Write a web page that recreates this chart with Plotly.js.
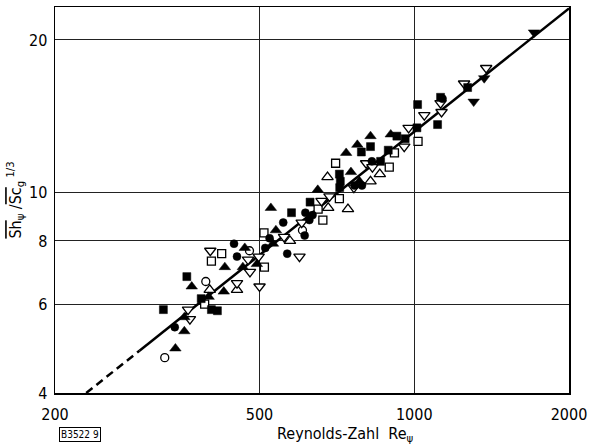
<!DOCTYPE html>
<html>
<head>
<meta charset="utf-8">
<script src="https://cdn.plot.ly/plotly-3.0.1.min.js"></script>
<style>html,body{margin:0;padding:0;background:#fff;}#chart{width:591px;height:448px;}</style>
</head>
<body>
<div id="chart"></div>
<script>
// Axis ticks
const xTicks = [200, 500, 1000, 2000];
const yTicks = [4, 6, 8, 10, 20];

// Correlation line (dashed start, then solid)
const lineDashRe = [230, 292];
const lineDashSh = [4.0, 4.85];
const lineSolidRe = [292, 2000];
const lineSolidSh = [4.85, 23.1];

// Filled squares
const fsRe = [325, 361, 385, 403, 414, 627, 577, 718, 716, 715, 822, 789, 925, 960, 890, 860, 1015, 1012, 1270, 1125, 1110];
const fsSh = [5.85, 6.8, 6.15, 5.85, 5.82, 9.55, 9.1, 10.5, 10.2, 10.85, 12.3, 12.0, 12.9, 12.75, 12.1, 11.5, 14.9, 13.4, 16.1, 15.4, 13.6];
// Filled triangles up
const ftRe = [468, 428, 464, 369, 426, 398, 357, 357, 343, 494, 526, 538, 531, 649, 822, 775, 737, 753, 782, 900];
const ftSh = [7.75, 7.1, 7.1, 6.5, 6.35, 6.2, 5.65, 5.3, 4.9, 7.2, 9.3, 8.4, 7.9, 10.1, 12.9, 12.4, 11.95, 10.95, 10.5, 13.0];
// Filled circles
const fcRe = [446, 452, 342, 614, 634, 625, 556, 612, 523, 513, 566, 827, 765, 791, 1135];
const fcSh = [7.9, 7.45, 5.4, 9.1, 9.0, 8.8, 8.7, 8.2, 8.1, 7.75, 7.55, 11.5, 10.3, 10.3, 15.3];
// Open squares
const osRe = [403, 422, 391, 510, 511, 703, 715, 664, 650, 1017, 915, 894];
const osSh = [7.3, 7.55, 6.0, 8.3, 7.1, 11.4, 9.7, 8.8, 9.25, 12.6, 11.95, 11.2];
// Open circles
const ocRe = [478, 393, 606, 327];
const ocSh = [7.65, 6.65, 8.4, 4.7];
// Open triangles up
const otRe = [400, 452, 678, 680, 743, 573, 857, 822];
const otSh = [6.4, 6.4, 10.7, 9.3, 9.25, 8.0, 10.85, 10.5];
// Open triangles down
const odRe = [401, 475, 479, 452, 500, 498, 363, 366, 684, 660, 604, 558, 598, 806, 829, 763, 956, 975, 1046, 1130, 1125, 1250, 1380];
const odSh = [7.65, 7.35, 6.95, 6.6, 6.5, 7.45, 5.85, 5.6, 9.8, 9.6, 8.7, 8.15, 7.45, 11.4, 11.2, 10.2, 12.3, 13.4, 14.2, 14.4, 15.0, 16.4, 17.6];
// Filled triangles down
const fdRe = [1710, 1368, 1305];
const fdSh = [20.7, 16.8, 15.1];

const FONT = 'DejaVu Sans Condensed, Liberation Sans Narrow, sans-serif';

function pts(x, y, sym, filled, size) {
  return {
    type: 'scatter', mode: 'markers', x: x, y: y, showlegend: false, hoverinfo: 'skip',
    marker: {
      symbol: sym, size: size,
      color: filled ? '#000' : '#fff',
      line: {color: '#000', width: filled ? 0.5 : 1.3}
    }
  };
}

const data = [
  {type: 'scatter', mode: 'lines', x: lineDashRe, y: lineDashSh, showlegend: false, hoverinfo: 'skip',
   line: {color: '#000', width: 2.5, dash: '8px,5px'}},
  {type: 'scatter', mode: 'lines', x: lineSolidRe, y: lineSolidSh, showlegend: false, hoverinfo: 'skip',
   line: {color: '#000', width: 2.5}},
  pts(osRe, osSh, 'square', false, 8),
  pts(ocRe, ocSh, 'circle', false, 8),
  pts(otRe, otSh, 'triangle-up', false, 10),
  pts(odRe, odSh, 'triangle-down', false, 10),
  pts(fsRe, fsSh, 'square', true, 8),
  pts(fcRe, fcSh, 'circle', true, 8),
  pts(ftRe, ftSh, 'triangle-up', true, 10),
  pts(fdRe, fdSh, 'triangle-down', true, 10)
];

const layout = {
  width: 591, height: 448,
  margin: {l: 55, r: 22, t: 7, b: 55},
  paper_bgcolor: '#fff', plot_bgcolor: '#fff',
  font: {family: FONT, size: 16, color: '#000'},
  xaxis: {
    type: 'log', range: [Math.log10(200), Math.log10(2000)],
    tickvals: xTicks, ticktext: xTicks.map(String),
    showgrid: true, gridcolor: '#222', gridwidth: 1,
    showline: true, mirror: true, linecolor: '#000', linewidth: 1.5,
    zeroline: false, ticks: '', ticklabelstandoff: 6,
    tickfont: {family: FONT, size: 16}
  },
  yaxis: {
    type: 'log', range: [Math.log10(4), 1.3663],
    tickvals: yTicks, ticktext: yTicks.map(String),
    showgrid: true, gridcolor: '#222', gridwidth: 1,
    showline: true, mirror: true, linecolor: '#000', linewidth: 1.5,
    zeroline: false, ticks: '', ticklabelstandoff: 3,
    tickfont: {family: FONT, size: 16},
    title: {text: '<span style="text-decoration:overline">Sh</span><sub>ψ</sub> /<span style="text-decoration:overline">Sc</span><sub>g</sub><sup> 1/3</sup>',
            font: {family: FONT, size: 16}, standoff: 3}
  },
  annotations: [
    {xref: 'paper', yref: 'paper', x: 0.565, y: -0.074, xanchor: 'center', yanchor: 'top', showarrow: false,
     text: 'Reynolds-Zahl  Re<sub>ψ</sub>', font: {family: FONT, size: 16}},
    {xref: 'paper', yref: 'paper', x: 0.008, y: -0.088, xanchor: 'left', yanchor: 'top', showarrow: false,
     text: 'B3522 9', font: {family: FONT, size: 10}, bordercolor: '#000', borderwidth: 1, borderpad: 1}
  ]
};

Plotly.newPlot('chart', data, layout, {staticPlot: true, displayModeBar: false});
</script>
</body>
</html>
